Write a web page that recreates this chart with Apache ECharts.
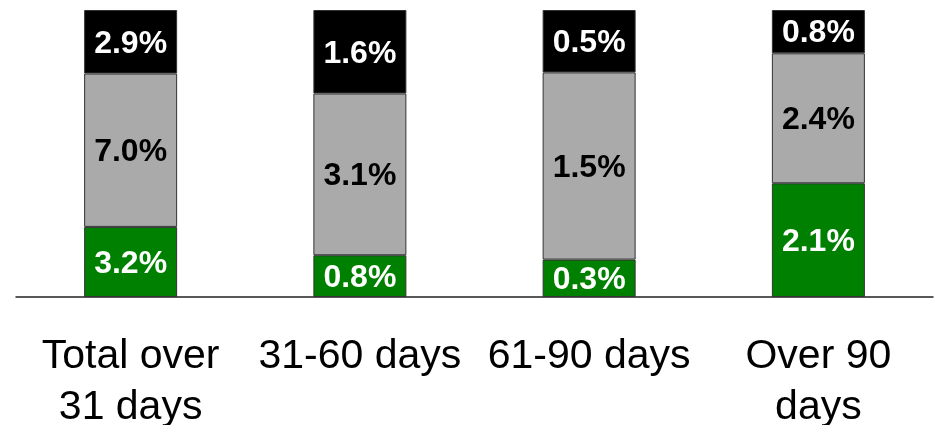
<!DOCTYPE html>
<html>
<head>
<meta charset="utf-8">
<script src="https://cdn.jsdelivr.net/npm/echarts@6/dist/echarts.min.js"></script>
<style>
  html, body { margin: 0; padding: 0; background: #fff; }
  #chart { width: 935px; height: 425px; }
</style>
</head>
<body>
<div id="chart"></div>
<script>
// categories and raw values (%), bars drawn as share of each total
var categories = ['Total over\n31 days', '31-60 days', '61-90 days', 'Over 90\ndays'];
var greenVals = [3.2, 0.8, 0.3, 2.1];
var grayVals = [7.0, 3.1, 1.5, 2.4];
var blackVals = [2.9, 1.6, 0.5, 0.8];

var totals = categories.map(function (c, i) {
  return greenVals[i] + grayVals[i] + blackVals[i];
});

function share(arr) {
  return arr.map(function (v, i) {
    return { value: v / totals[i], raw: v };
  });
}

var chart = echarts.init(document.getElementById('chart'), null, { renderer: 'canvas' });

function seg(name, vals, color, textColor) {
  return {
    name: name,
    type: 'bar',
    stack: 'total',
    barWidth: 93,
    data: share(vals),
    itemStyle: { color: color, borderColor: '#333', borderWidth: 1 },
    label: {
      show: true,
      position: 'inside',
      offset: [0, 2],
      color: textColor,
      fontFamily: 'Liberation Sans',
      fontWeight: 'bold',
      fontSize: 32,
      formatter: function (p) { return p.data.raw.toFixed(1) + '%'; }
    }
  };
}

var option = {
  animation: false,
  grid: { left: 16, right: 2, top: 10, bottom: 128, outerBoundsMode: 'none' },
  xAxis: {
    type: 'category',
    data: categories,
    axisTick: { show: false },
    axisLine: { lineStyle: { color: '#222', width: 1.5 } },
    axisLabel: {
      color: '#000',
      fontFamily: 'Liberation Sans',
      fontSize: 41,
      lineHeight: 51,
      margin: 34,
      interval: 0,
      align: 'center'
    }
  },
  yAxis: { type: 'value', min: 0, max: 1, show: false },
  series: [
    seg('green', greenVals, '#008000', '#fff'),
    seg('gray', grayVals, '#aaaaaa', '#000'),
    seg('black', blackVals, '#000000', '#fff')
  ]
};

chart.setOption(option);
</script>
</body>
</html>
